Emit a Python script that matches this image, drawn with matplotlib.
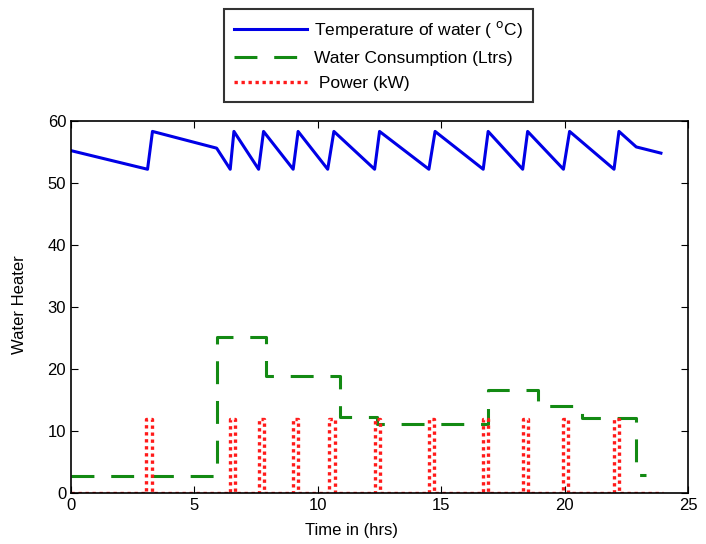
import numpy as np
import matplotlib.pyplot as plt

# ── Data ─────────────────────────────────────────────────────────────────────
temp_t = [0, 3.1, 3.3, 5.9, 6.45, 6.6, 7.6, 7.8, 9.0, 9.2, 10.4, 10.65,
          12.3, 12.5, 14.5, 14.75, 16.7, 16.9, 18.3, 18.5, 19.95, 20.2,
          22.0, 22.2, 22.9, 23.9]
temp_v = [55.2, 52.2, 58.3, 55.6, 52.2, 58.3, 52.2, 58.3, 52.2, 58.3, 52.2,
          58.3, 52.2, 58.3, 52.2, 58.3, 52.2, 58.3, 52.2, 58.3, 52.2, 58.3,
          52.2, 58.3, 55.8, 54.8]

water_edges = [0, 5.9, 7.9, 10.9, 12.4, 16.9, 18.9, 20.7, 22.9, 23.3]
water_vals = [2.8, 25.2, 18.9, 12.2, 11.1, 16.6, 14.1, 12.1, 2.9]

power_start = [3.05, 6.45, 7.6, 9.0, 10.45, 12.3, 14.5, 16.7, 18.3, 19.95, 22.0]
power_end = [3.3, 6.65, 7.8, 9.2, 10.7, 12.5, 14.7, 16.9, 18.5, 20.15, 22.2]
power_level = 12.0
power_span = (0, 24.0)

# ── Build step series ─────────────────────────────────────────────────────────
w_t = np.repeat(water_edges, 2)[1:-1]
w_v = np.repeat(water_vals, 2)

p_t = [power_span[0]]
p_v = [0.0]
for s, e in zip(power_start, power_end):
    p_t += [s, s, e, e]
    p_v += [0.0, power_level, power_level, 0.0]
p_t.append(power_span[1])
p_v.append(0.0)

# ── Plot ──────────────────────────────────────────────────────────────────────
plt.rcParams.update({'font.family': 'Liberation Sans', 'font.size': 12})
fig = plt.figure(figsize=(7.06, 5.44), dpi=100)
ax = fig.add_axes([0.1006, 0.0938, 0.874, 0.684])

ax.plot(temp_t, temp_v, color='#0000e6', linewidth=2.2,
        label='Temperature of water ( $^{\\mathrm{o}}$C)')
ax.plot(w_t, w_v, color='#138a13', linewidth=2.2, dashes=(7.5, 5.5),
        label='Water Consumption (Ltrs)')
ax.plot(p_t, p_v, color='#ff1a1a', linewidth=2.4, linestyle=(0, (1, 1.1)),
        label=' Power (kW)')

ax.set_xlim(0, 25)
ax.set_ylim(0, 60)
ax.set_xticks(np.arange(0, 26, 5))
ax.set_yticks(np.arange(0, 61, 10))
ax.tick_params(direction='in', top=True, right=True, length=5, labelsize=12)
for sp in ax.spines.values():
    sp.set_linewidth(1.2)
ax.set_xlabel('Time in (hrs)')
ax.set_ylabel('Water Heater')
ax.xaxis.set_label_coords(0.454, -0.08)
ax.yaxis.set_label_coords(-0.072, 0.505)

leg = fig.legend(loc='upper center', bbox_to_anchor=(0.536, 1.0),
                 frameon=True, fancybox=False, edgecolor='black',
                 handlelength=4.2, handletextpad=0.4, labelspacing=0.6,
                 borderpad=0.6, fontsize=12.5)
leg.get_frame().set_linewidth(1.5)

fig.savefig('out.png', dpi=100)
